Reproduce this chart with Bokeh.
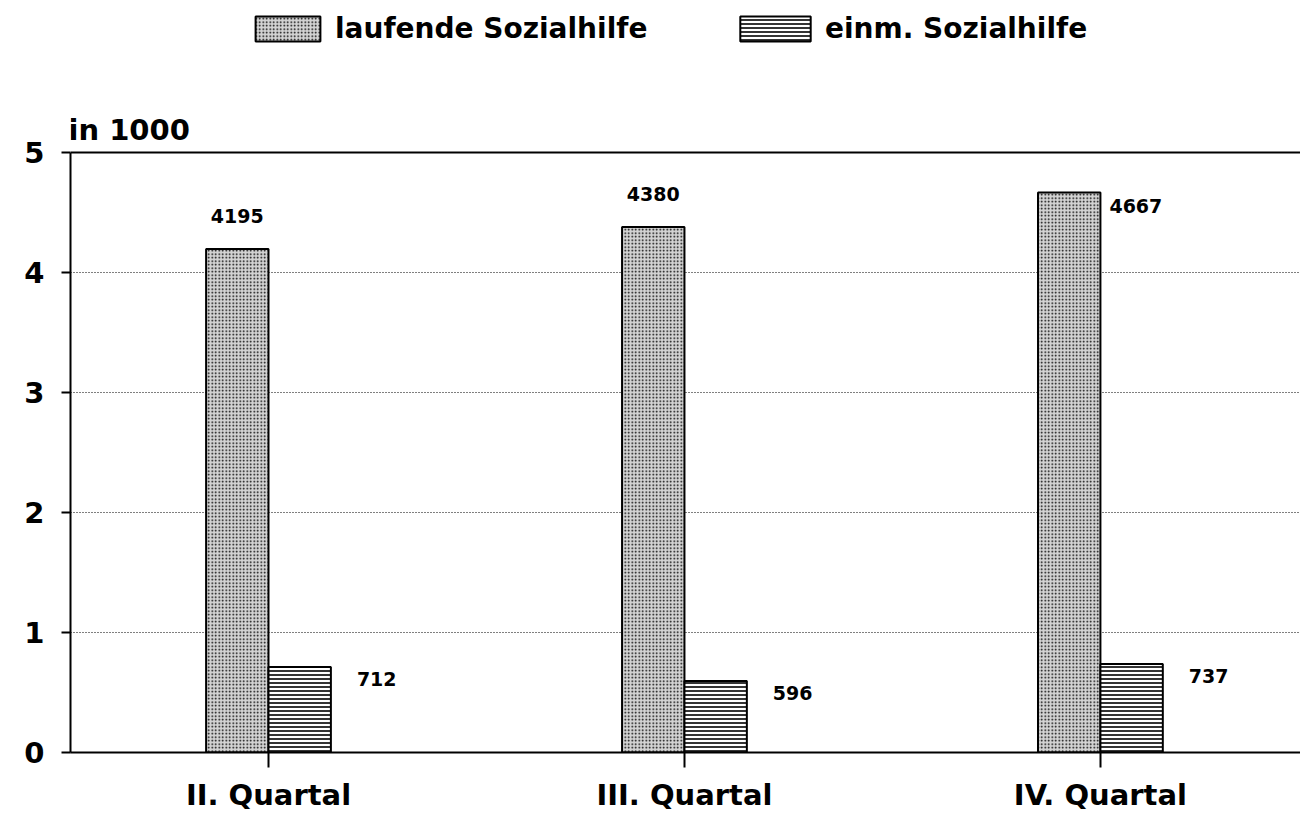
from bokeh.plotting import figure
from bokeh.models import (Range1d, FixedTicker, Span, Label, Legend, LegendItem,
                          ColumnDataSource)
from bokeh.core.properties import value
from bokeh.embed import file_html
from bokeh.resources import INLINE

categories = ["II. Quartal", "III. Quartal", "IV. Quartal"]
laufende = [4195, 4380, 4667]
einmalig = [712, 596, 737]
y_ticks = [0, 1, 2, 3, 4, 5]
series_names = ["laufende Sozialhilfe", "einm. Sozialhilfe"]

FONT = "DejaVu Sans"
BW = 0.15
xs = list(range(len(categories)))

src = ColumnDataSource(dict(
    x1=[x - BW / 2 for x in xs],
    x2=[x + BW / 2 for x in xs],
    xr=[x + BW for x in xs],
    y1=[v / 1000 for v in laufende],
    y2=[v / 1000 for v in einmalig],
    t2=[str(v) for v in einmalig],
))

# labels of the first series: the last one sits beside its bar (as in the original)
above = ColumnDataSource(dict(x=[x - BW / 2 for x in xs[:2]],
                              y=[v / 1000 for v in laufende[:2]],
                              t=[str(v) for v in laufende[:2]]))
beside = ColumnDataSource(dict(x=[xs[2]], y=[laufende[2] / 1000],
                               t=[str(laufende[2])]))

p = figure(width=1300, height=826, output_backend="svg", toolbar_location=None,
           x_range=Range1d(-0.476, 2.481), y_range=Range1d(0, 6.2667),
           min_border_left=70, min_border_right=0, min_border_top=0,
           min_border_bottom=74)
p.outline_line_color = None
p.background_fill_color = "white"

r1 = p.vbar(x="x1", top="y1", bottom=0, width=BW, source=src,
            fill_color="#d4d4d4", line_color="black", line_width=2,
            hatch_pattern="dot", hatch_color="black", hatch_scale=3.5,
            hatch_weight=1.0)
r2 = p.vbar(x="x2", top="y2", bottom=0, width=BW, source=src,
            fill_color="white", line_color="black", line_width=2,
            hatch_pattern="horizontal_line", hatch_color="black",
            hatch_scale=4, hatch_weight=1.6)

lab = dict(text_font=value(FONT), text_font_style="bold", text_font_size="19px",
           text_color="black")
p.text(x="x", y="y", text="t", source=above, text_align="center",
       text_baseline="bottom", y_offset=-26, **lab)
p.text(x="x", y="y", text="t", source=beside, text_align="left",
       text_baseline="middle", x_offset=9, y_offset=14, **lab)
p.text(x="xr", y="y2", text="t2", source=src, text_align="left",
       text_baseline="middle", x_offset=26, y_offset=12, **lab)

# axes
p.yaxis.ticker = FixedTicker(ticks=y_ticks)
p.yaxis.bounds = (0, 5)
p.yaxis.axis_line_width = 2
p.yaxis.axis_line_color = "black"
p.yaxis.major_tick_out = 9
p.yaxis.major_tick_in = 0
p.yaxis.major_tick_line_width = 2
p.yaxis.minor_tick_line_color = None
p.yaxis.major_label_text_font = FONT
p.yaxis.major_label_text_font_style = "bold"
p.yaxis.major_label_text_font_size = "29px"
p.yaxis.major_label_text_color = "black"
p.yaxis.major_label_standoff = 17

p.xaxis.ticker = FixedTicker(ticks=xs)
p.xaxis.major_label_overrides = {i: c for i, c in enumerate(categories)}
p.xaxis.axis_line_width = 2
p.xaxis.axis_line_color = "black"
p.xaxis.major_tick_out = 15
p.xaxis.major_tick_in = 0
p.xaxis.major_tick_line_width = 2
p.xaxis.minor_tick_line_color = None
p.xaxis.major_label_text_font = FONT
p.xaxis.major_label_text_font_style = "bold"
p.xaxis.major_label_text_font_size = "29px"
p.xaxis.major_label_text_color = "black"
p.xaxis.major_label_standoff = 10

p.xgrid.grid_line_color = None
p.ygrid.ticker = FixedTicker(ticks=[1, 2, 3, 4])
p.ygrid.grid_line_color = "black"
p.ygrid.grid_line_dash = "1 2"
p.ygrid.grid_line_width = 1

p.add_layout(Span(location=5, dimension="width", line_color="black", line_width=2))

p.add_layout(Label(x=-2, y=623, x_units="screen", y_units="screen", text="in 1000",
                   text_font=FONT, text_font_style="bold", text_font_size="29px",
                   text_color="black", text_baseline="alphabetic"))

common = dict(orientation="horizontal", glyph_height=31,
              padding=0, margin=0, border_line_color=None,
              background_fill_alpha=0, label_text_font=FONT,
              label_text_font_style="bold", label_text_font_size="28px",
              label_text_color="black")
leg1 = Legend(items=[LegendItem(label=series_names[0], renderers=[r1])],
              location=(177, 707), glyph_width=81, label_standoff=7, **common)
leg2 = Legend(items=[LegendItem(label=series_names[1], renderers=[r2])],
              location=(661, 707), glyph_width=88, label_standoff=6, **common)
p.add_layout(leg1, "center")
p.add_layout(leg2, "center")

open("out.html", "w").write(file_html(p, INLINE))
